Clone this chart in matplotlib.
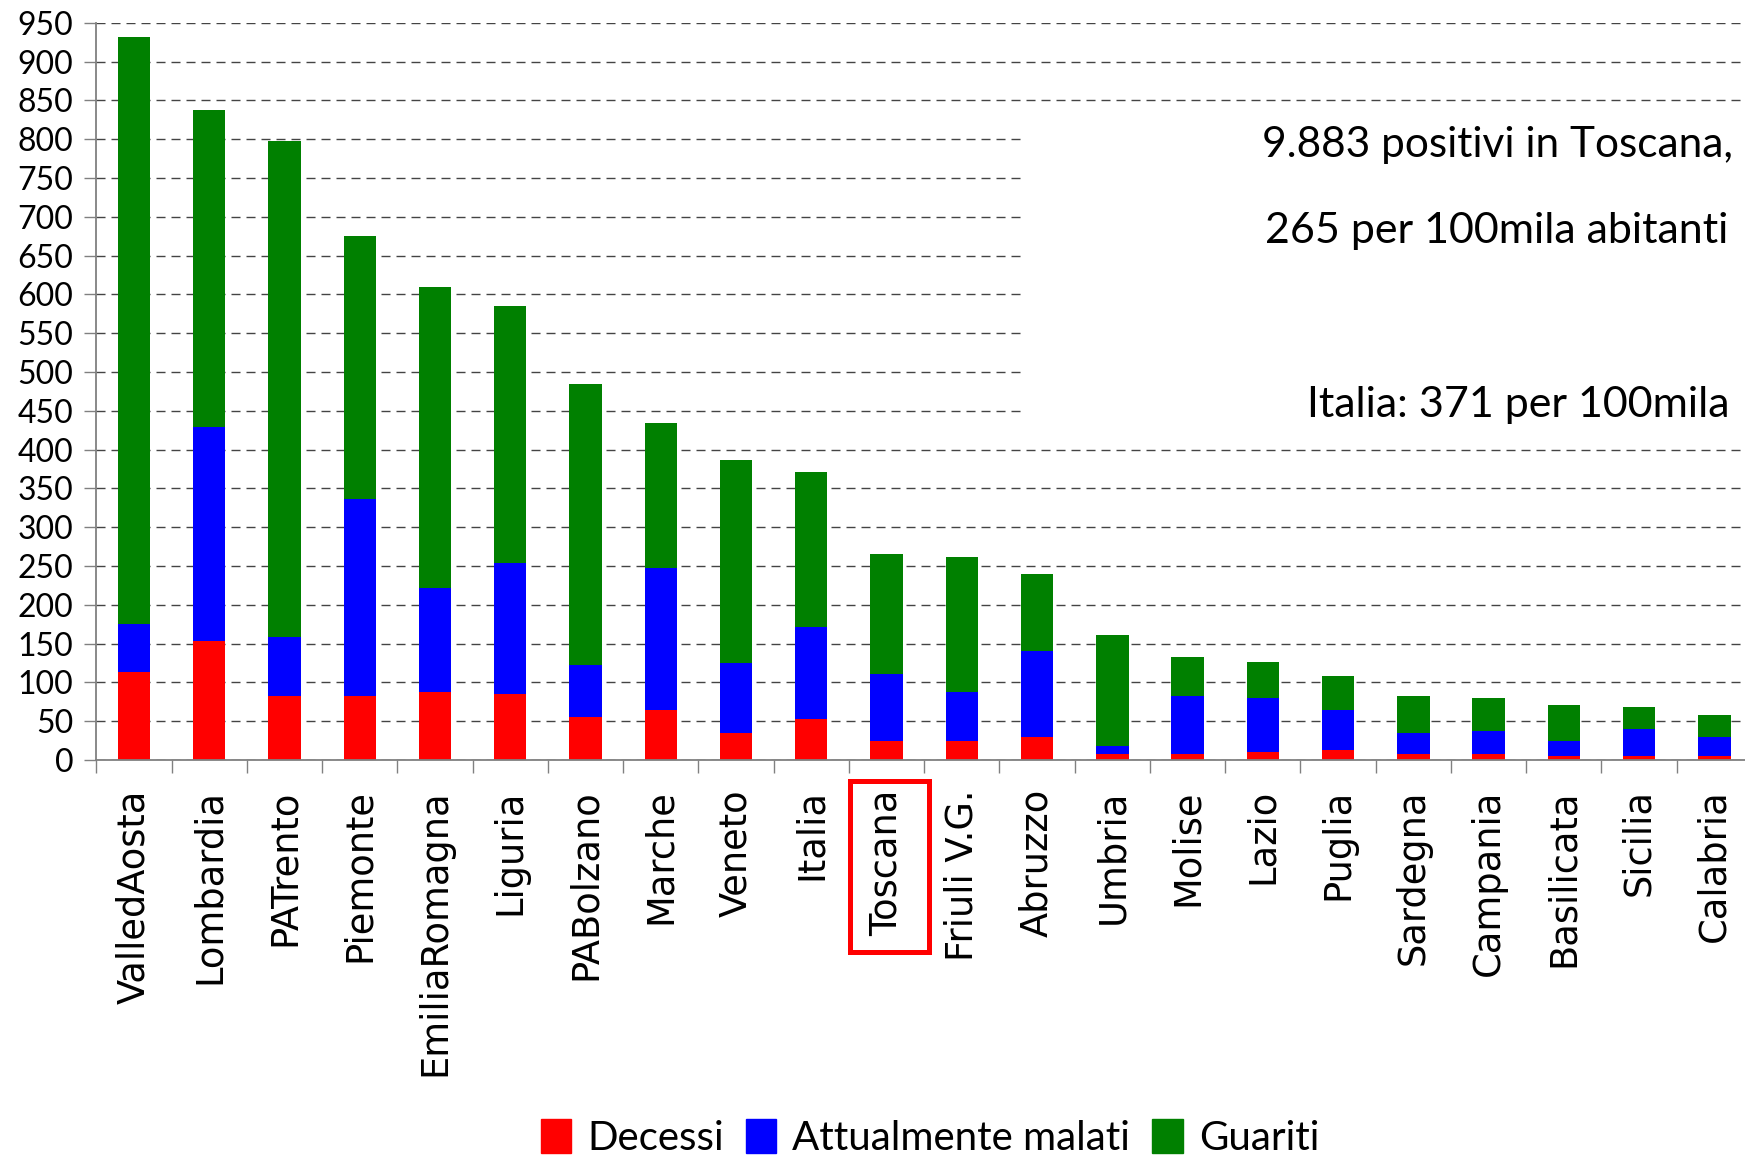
import numpy as np
import matplotlib.pyplot as plt
from matplotlib.patches import Rectangle, Patch

regions = ['ValledAosta', 'Lombardia', 'PATrento', 'Piemonte', 'EmiliaRomagna',
           'Liguria', 'PABolzano', 'Marche', 'Veneto', 'Italia', 'Toscana',
           'Friuli V.G.', 'Abruzzo', 'Umbria', 'Molise', 'Lazio', 'Puglia',
           'Sardegna', 'Campania', 'Basilicata', 'Sicilia', 'Calabria']
decessi = [113, 153, 83, 83, 88, 85, 55, 65, 35, 53, 25,
           24, 29, 8, 8, 10, 13, 8, 8, 5, 5, 5]
malati = [62, 276, 75, 253, 134, 169, 67, 183, 90, 119, 86,
          64, 111, 10, 74, 70, 51, 27, 29, 19, 35, 25]
guariti = [757, 408, 639, 339, 387, 331, 363, 186, 261, 199, 154,
           173, 100, 143, 51, 46, 44, 47, 43, 47, 28, 28]
yticks = np.arange(0, 951, 50)
notes = ['9.883 positivi in Toscana,', '265 per 100mila abitanti', 'Italia: 371 per 100mila']
highlight = 'Toscana'

RED, BLUE, GREEN = '#FF0000', '#0000FF', '#008000'

W, H = 1745, 1157
fig = plt.figure(figsize=(W / 100, H / 100), dpi=100)
ax = fig.add_axes([96.4 / W, 1 - 760 / H, (1752 - 96.4) / W, (760 - 22.7) / H])

x = np.arange(len(regions))
d = np.array(decessi)
m = np.array(malati)
g = np.array(guariti)
bw = 0.43
ax.bar(x, d, bw, color=RED, zorder=2)
ax.bar(x, m, bw, bottom=d, color=BLUE, zorder=2)
ax.bar(x, g, bw, bottom=d + m, color=GREEN, zorder=2)

ax.set_xlim(-0.5, len(regions) - 0.5)
ax.set_ylim(0, 950)
ax.set_yticks(yticks)
ax.set_axisbelow(True)
ax.yaxis.grid(True, color='#444444', linewidth=1.0, linestyle=(0, (6.5, 4.3)))

for s in ['top', 'right']:
    ax.spines[s].set_visible(False)
for s in ['left', 'bottom']:
    ax.spines[s].set_color('#808080')
    ax.spines[s].set_linewidth(1.3)

ax.tick_params(axis='y', direction='out', length=8.6, width=1.0, color='#808080',
               pad=8, labelsize=23)
for lab in ax.get_yticklabels():
    lab.set_family('Lato')

ax.set_xticks(x)
ax.set_xticklabels(regions, rotation=90, fontsize=26.5, family='DejaVu Sans')
ax.tick_params(axis='x', which='major', length=0, pad=21)
ax.set_xticks(np.arange(len(regions) + 1) - 0.5, minor=True)
ax.tick_params(axis='x', which='minor', direction='out', length=9.4, width=1.0, color='#808080')

# red box around Toscana label
i = regions.index(highlight)
ax.add_patch(Rectangle((i - 0.48, -0.2604), 1.04, 0.2319, transform=ax.get_xaxis_transform(),
                       fill=False, edgecolor=RED, linewidth=3.6, clip_on=False))

# white panel behind the annotation text
ax.add_patch(Rectangle((1026 / W, 1 - 430 / H), 1 - 1026 / W, 310 / H, transform=fig.transFigure,
                       facecolor='white', edgecolor='none', zorder=1))

fig.text(1262 / W, 1 - 157 / H, notes[0], fontsize=30.5, family='Lato', va='baseline')
fig.text(1265 / W, 1 - 243 / H, notes[1], fontsize=31, family='Lato', va='baseline')
fig.text(1307 / W, 1 - 417 / H, notes[2], fontsize=31, family='Lato', va='baseline')

handles = [Patch(color=RED, label='Decessi'),
           Patch(color=BLUE, label='Attualmente malati'),
           Patch(color=GREEN, label='Guariti')]
fig.legend(handles=handles, loc='lower left', bbox_to_anchor=(541 / W, 0.0), ncol=3,
           frameon=False, borderpad=0, borderaxespad=0, handlelength=0.75, handleheight=0.9,
           handletextpad=0.4, columnspacing=0.55, prop={'family': 'Lato', 'size': 29})

fig.savefig('out.png', dpi=100)
